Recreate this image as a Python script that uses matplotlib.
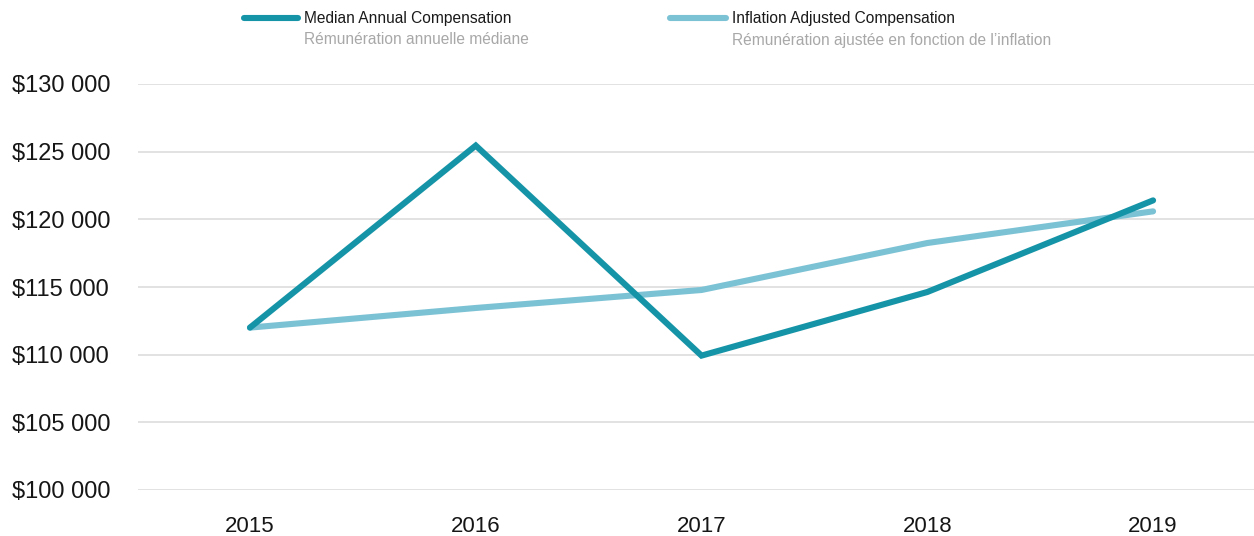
import matplotlib
matplotlib.use("Agg")
import matplotlib.pyplot as plt
from matplotlib import rcParams

rcParams["font.family"] = ["Liberation Sans", "DejaVu Sans"]

years = [2015, 2016, 2017, 2018, 2019]
median_comp = [112000, 125450, 109930, 114630, 121400]
inflation_comp = [112000, 113450, 114780, 118250, 120590]
yticks = [100000, 105000, 110000, 115000, 120000, 125000, 130000]
ytick_labels = ["$100 000", "$105 000", "$110 000", "$115 000",
                "$120 000", "$125 000", "$130 000"]

dark = "#1694a7"
light = "#7cc2d5"

fig = plt.figure(figsize=(12.54, 5.36), dpi=100)
ax = fig.add_axes([138 / 1254, 46 / 536, 1116 / 1254, 406 / 536])

# gridlines
for v in yticks:
    ax.axhline(v, color="#e2e2e2", lw=1.4, zorder=0)

ax.plot(years, inflation_comp, color=light, lw=4.4, solid_capstyle="round",
        solid_joinstyle="miter", clip_on=False, zorder=2)
ax.plot(years, median_comp, color=dark, lw=4.4, solid_capstyle="round",
        solid_joinstyle="miter", clip_on=False, zorder=3)

ax.set_xlim(2014.504, 2019.447)
ax.set_ylim(100000, 130000)
ax.set_xticks(years)
ax.set_xticklabels([str(y) for y in years], fontsize=16, color="#161616")
ax.set_yticks(yticks)
ax.set_yticklabels(ytick_labels, fontsize=17, color="#161616")
for lab in ax.get_yticklabels():
    lab.set_horizontalalignment("left")
ax.tick_params(axis="y", length=0, pad=126 * 0.72)
ax.tick_params(axis="x", length=0, pad=19)
for s in ax.spines.values():
    s.set_visible(False)

# legend drawn at top
def legend_item(x0, x1, color, title, subtitle):
    fig.add_artist(plt.Line2D([x0 / 1254, x1 / 1254], [1 - 18 / 536, 1 - 18 / 536],
                              color=color, lw=4.4, solid_capstyle="round"))
    fig.text((x1 + 6) / 1254, 1 - 19 / 536, title, fontsize=11.2,
             color="#1a1a1a", va="center", ha="left")
    fig.text((x1 + 6) / 1254, 1 - 40 / 536, subtitle, fontsize=11.2,
             color="#a8a8a8", va="center", ha="left")

legend_item(244, 298, dark, "Median Annual Compensation",
            "Rémunération annuelle médiane")
legend_item(670, 726, light, "Inflation Adjusted Compensation",
            "Rémunération ajustée en fonction de l’inflation")

fig.savefig("out.png", dpi=100)
